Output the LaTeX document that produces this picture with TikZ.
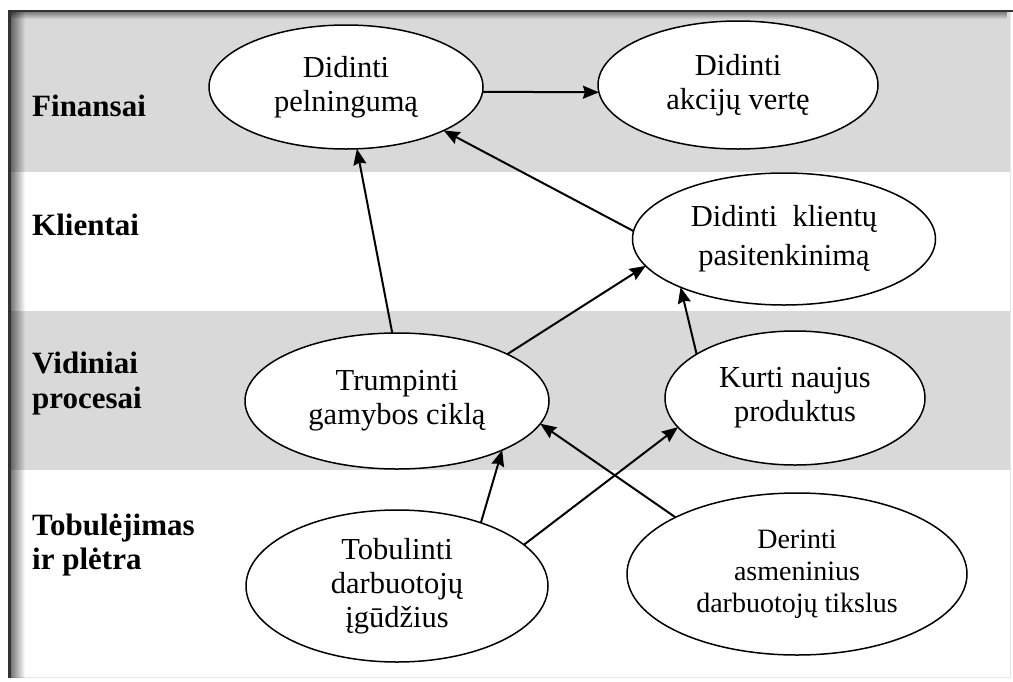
\documentclass[tikz,border=0pt]{standalone}
\usepackage{fontspec}
\setmainfont{Liberation Serif}
\usetikzlibrary{shapes.geometric, arrows.meta, fadings}

% soft inner shadow along the top and left edges of the frame
\tikzfading[name=shadeeast, left color=transparent!0, right color=transparent!100]
\tikzfading[name=shadesouth, top color=transparent!0, bottom color=transparent!100]

\definecolor{bandgray}{HTML}{D9D9D9}

\begin{document}
\begin{tikzpicture}[x=1pt, y=-1pt,
  goal/.style={ellipse, draw, line width=1.5pt, fill=white, inner sep=0pt,
    outer sep=0pt, align=center, font=\fontsize{30.5}{34}\selectfont},
  rowlabel/.style={anchor=base west, inner sep=0pt,
    font=\fontsize{31}{34}\selectfont\bfseries},
  link/.style={-{Stealth[length=16pt, width=13pt, inset=2pt]}, line width=2pt},
]
\useasboundingbox (0,0) rectangle (1013,681);
\fill[white] (0,0) rectangle (1013,681);

% perspective bands
\fill[bandgray] (9,10) rectangle (1010,172);
\fill[bandgray] (9,311) rectangle (1010,470);

% frame
\draw[black!10, line width=1.5pt] (1010.5,11) -- (1010.5,677.5) -- (10,677.5);
\fill[black, fill opacity=0.45, path fading=shadesouth] (10,11.5) rectangle (1010,19);
\fill[black, fill opacity=0.55, path fading=shadeeast] (10.5,11) rectangle (25,678);
\fill[black!80] (8,9.5) rectangle (1013,11.5);
\fill[black!80] (8,9.5) rectangle (10.5,678);

% perspective names
\node[rowlabel] (lblFin) at (32,116) {Finansai};
\node[rowlabel] (lblKli) at (32,235) {Klientai};
\node[rowlabel] (lblVid1) at (32,373) {Vidiniai};
\node[rowlabel] (lblVid2) at (32,408) {procesai};
\node[rowlabel] (lblTob1) at (32,535) {Tobulėjimas};
\node[rowlabel] (lblTob2) at (32,569) {ir plėtra};

% strategic goals
\node[goal, minimum width=274pt, minimum height=124pt] (peln) at (346,87) {Didinti\\pelningumą};
\node[goal, minimum width=280pt, minimum height=128pt] (akc) at (738,85) {Didinti\\akcijų vertę};
\node[goal, minimum width=303pt, minimum height=132pt,
  font=\fontsize{30.5}{39}\selectfont] (klient) at (784,239) {Didinti~~klientų\\pasitenkinimą};
\node[goal, minimum width=304pt, minimum height=136pt] (trump) at (397,401) {Trumpinti\\gamybos ciklą};
\node[goal, minimum width=260pt, minimum height=134pt] (kurti) at (795,398) {Kurti naujus\\produktus};
\node[goal, minimum width=302pt, minimum height=152pt] (tobul) at (397,586) {Tobulinti\\darbuotojų\\įgūdžius};
\node[goal, minimum width=340pt, minimum height=162pt,
  font=\fontsize{28}{32}\selectfont] (derin) at (797,574) {Derinti\\asmeninius\\darbuotojų tikslus};

% cause and effect links
\draw[link] (peln.-2) -- (akc.183);
\draw[link] (trump.94) -- (peln.280);
\draw[link] (klient.177) -- (peln.336);
\draw[link] (trump.23) -- (klient.191);
\draw[link] (kurti.156) -- (klient.205);
\draw[link] (tobul.37) -- (trump.335);
\draw[link] (tobul.18) -- (kurti.194);
\draw[link] (derin.155) -- (trump.351);
\end{tikzpicture}
\end{document}
